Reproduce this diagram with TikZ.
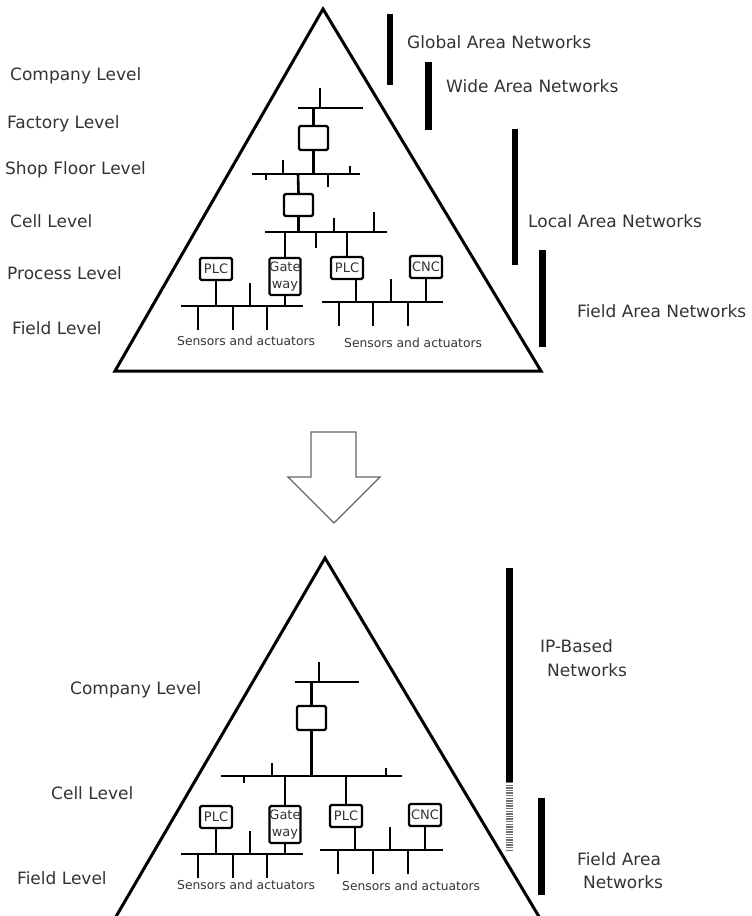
\documentclass[tikz,border=0pt]{standalone}
\usepackage{fontspec}
\setmainfont{DejaVu Sans}
\usetikzlibrary{positioning, calc}
\definecolor{labelgray}{RGB}{51, 51, 51}
\definecolor{hatchgray}{RGB}{110, 110, 110}

\begin{document}
\begin{tikzpicture}[x=1pt, y=-1pt,
    pyr/.style={line width=3pt, line join=miter},
    bus/.style={line width=2.6pt},
    bar/.style={line width=6.5pt},
    unit/.style={draw, line width=2.2pt, rounded corners=1.5pt, inner sep=0pt,
        minimum width=32pt, minimum height=22pt, align=center,
        font=\fontsize{13}{17}\selectfont, text=labelgray},
    level/.style={anchor=base west, inner sep=0pt,
        font=\fontsize{17}{20}\selectfont, text=labelgray},
    sensing/.style={anchor=base west, inner sep=0pt,
        font=\fontsize{12.3}{14}\selectfont, text=labelgray}]
    \useasboundingbox (0,0) rectangle (752,916);
    \clip (0,0) rectangle (752,916);

    % ---------------- Classic automation pyramid ----------------
    \draw[pyr] (323,9) -- (541,371) -- (115,371) -- cycle;

    % Level labels
    \node[level] (lvCompany) at (10,80)  {Company Level};
    \node[level] (lvFactory) at (7,128)  {Factory Level};
    \node[level] (lvShop)    at (5,174)  {Shop Floor Level};
    \node[level] (lvCell)    at (10,227) {Cell Level};
    \node[level] (lvProcess) at (7,279)  {Process Level};
    \node[level] (lvField)   at (12,334) {Field Level};

    % Network ranges
    \draw[bar] (390,14) -- (390,85);
    \draw[bar] (428.5,62) -- (428.5,130);
    \draw[bar] (515,129) -- (515,265);
    \draw[bar] (542.5,250) -- (542.5,347);
    \node[level] (netGlobal) at (407,48)  {Global Area Networks};
    \node[level] (netWide)   at (446,92)  {Wide Area Networks};
    \node[level] (netLocal)  at (528,227) {Local Area Networks};
    \node[level] (netField)  at (577,317) {Field Area Networks};

    % Upper buses and routers
    \draw[bus] (320,88) -- (320,108);
    \draw[bus] (298,108) -- (363,108);
    \node[unit, minimum width=29pt, minimum height=24pt] (routerA) at (313.5,138) {};
    \draw[bus] (routerA) -- (routerA |- 0,108);
    \draw[bus] (252,174) -- (360,174);
    \draw[bus] (routerA) -- (routerA |- 0,174);
    \draw[bus] (283,160) -- (283,174);
    \draw[bus] (266,174) -- (266,180);
    \draw[bus] (328,174) -- (328,187);
    \draw[bus] (350,166) -- (350,174);
    \node[unit, minimum width=29pt] (routerB) at (298.5,205) {};
    \draw[bus] (routerB.north) -- (298,174);
    \draw[bus] (265,232) -- (387,232);
    \draw[bus] (routerB) -- (routerB |- 0,232);
    \draw[bus] (334,218) -- (334,232);
    \draw[bus] (374,212) -- (374,232);
    \draw[bus] (316,232) -- (316,248);

    % Field devices
    \node[unit] (plcA) at (216,269) {PLC};
    \node[unit, minimum width=30pt, minimum height=37pt] (gateA) at (285,276.5) {Gate\\way};
    \node[unit] (plcB) at (347,268) {PLC};
    \node[unit] (cncA) at (426,267) {CNC};
    \draw[bus] (gateA.north) -- (gateA.north |- 0,232);
    \draw[bus] (plcB) -- (plcB |- 0,232);

    % Field buses
    \draw[bus] (181,306) -- (303,306);
    \draw[bus] (plcA) -- (plcA |- 0,306);
    \draw[bus] (gateA) -- (gateA |- 0,306);
    \draw[bus] (250,283) -- (250,306);
    \draw[bus] (198,306) -- (198,330);
    \draw[bus] (233,306) -- (233,330);
    \draw[bus] (267,306) -- (267,330);
    \draw[bus] (322,302) -- (443,302);
    \coordinate (plcBout) at ([xshift=9pt]plcB.south);
    \draw[bus] (plcBout) -- (plcBout |- 0,302);
    \draw[bus] (cncA) -- (cncA |- 0,302);
    \draw[bus] (391,279) -- (391,302);
    \draw[bus] (339,302) -- (339,326);
    \draw[bus] (373,302) -- (373,326);
    \draw[bus] (408,302) -- (408,326);
    \node[sensing] (sensA) at (177,345) {Sensors and actuators};
    \node[sensing] (sensB) at (344,347) {Sensors and actuators};

    % ---------------- Transition arrow ----------------
    \draw[line width=1.2pt, black!60, fill=white]
        (311,432) -- (356,432) -- (356,477) -- (380,477) -- (334,523)
        -- (288,477) -- (311,477) -- cycle;

    % ---------------- Flattened pyramid ----------------
    \draw[pyr] (325,558) -- (541,920) -- (114,920) -- cycle;

    \node[level] (lvCompanyB) at (70,694) {Company Level};
    \node[level] (lvCellB)    at (51,799) {Cell Level};
    \node[level] (lvFieldB)   at (17,884) {Field Level};

    \draw[bar] (509.5,568) -- (509.5,782);
    \draw[bar, hatchgray, dash pattern=on 1.3pt off 1.3pt] (509.5,782) -- (509.5,852);
    \draw[bar] (541.5,798) -- (541.5,895);
    \node[level] (netIP)    at (540,652) {IP-Based};
    \node[level] (netIPb)   at (547,676) {Networks};
    \node[level] (netFieldB)  at (577,865) {Field Area};
    \node[level] (netFieldBb) at (583,888) {Networks};

    % Upper bus and router
    \draw[bus] (319,662) -- (319,682);
    \draw[bus] (295,682) -- (359,682);
    \node[unit, minimum width=29pt, minimum height=24pt] (routerC) at (311.5,718) {};
    \draw[bus] (routerC) -- (routerC |- 0,682);
    \draw[bus] (221,776) -- (402,776);
    \draw[bus] (routerC) -- (routerC |- 0,776);
    \draw[bus] (272,763) -- (272,776);
    \draw[bus] (244,776) -- (244,783);
    \draw[bus] (386,768) -- (386,776);

    \begin{scope}[shift={(0,548)}]
        % Field devices
        \node[unit] (plcC) at (216,269) {PLC};
        \node[unit, minimum width=30pt, minimum height=37pt] (gateB) at (285,276.5) {Gate\\way};
        \node[unit] (plcD) at (346,268) {PLC};
        \node[unit] (cncB) at (425,267) {CNC};

        % Field buses
        \draw[bus] (181,306) -- (303,306);
        \draw[bus] (plcC) -- (plcC |- 0,306);
        \draw[bus] (gateB) -- (gateB |- 0,306);
        \draw[bus] (250,283) -- (250,306);
        \draw[bus] (198,306) -- (198,330);
        \draw[bus] (233,306) -- (233,330);
        \draw[bus] (267,306) -- (267,330);
        \draw[bus] (320,302) -- (443,302);
        \coordinate (plcDout) at ([xshift=9pt]plcD.south);
        \draw[bus] (plcDout) -- (plcDout |- 0,302);
        \draw[bus] (cncB) -- (cncB |- 0,302);
        \draw[bus] (390,279) -- (390,302);
        \draw[bus] (338,302) -- (338,326);
        \draw[bus] (373,302) -- (373,326);
        \draw[bus] (408,302) -- (408,326);
        \node[sensing] (sensC) at (177,341) {Sensors and actuators};
        \node[sensing] (sensD) at (342,342) {Sensors and actuators};
    \end{scope}
    \draw[bus] (gateB.north) -- (gateB.north |- 0,776);
    \draw[bus] (plcD.north) -- (plcD.north |- 0,776);
\end{tikzpicture}
\end{document}
